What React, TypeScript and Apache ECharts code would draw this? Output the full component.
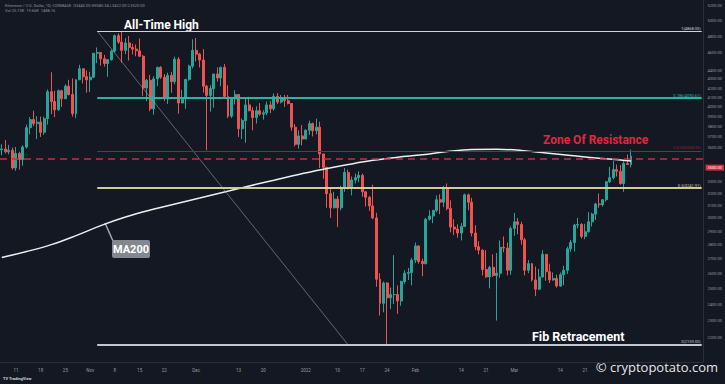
import React, { useEffect, useRef } from "react";
import * as echarts from "echarts";

// date, open, high, low, close (ETH/USD daily)
const ohlc: [string, number, number, number, number][] = [
  ["2021-10-07", 3580, 3630, 3530, 3587],
  ["2021-10-08", 3587, 3670, 3545, 3560],
  ["2021-10-09", 3560, 3625, 3537, 3575],
  ["2021-10-10", 3575, 3600, 3400, 3415],
  ["2021-10-11", 3415, 3605, 3390, 3545],
  ["2021-10-12", 3545, 3560, 3400, 3490],
  ["2021-10-13", 3490, 3620, 3435, 3605],
  ["2021-10-14", 3605, 3820, 3590, 3790],
  ["2021-10-15", 3790, 3895, 3725, 3870],
  ["2021-10-16", 3870, 3960, 3805, 3830],
  ["2021-10-17", 3830, 3905, 3680, 3845],
  ["2021-10-18", 3845, 3900, 3700, 3745],
  ["2021-10-19", 3745, 3900, 3720, 3880],
  ["2021-10-20", 3880, 4185, 3820, 4160],
  ["2021-10-21", 4160, 4375, 3925, 4055],
  ["2021-10-22", 4055, 4170, 3895, 3970],
  ["2021-10-23", 3970, 4185, 3960, 4170],
  ["2021-10-24", 4170, 4180, 4000, 4085],
  ["2021-10-25", 4085, 4240, 4085, 4220],
  ["2021-10-26", 4220, 4290, 4120, 4130],
  ["2021-10-27", 4130, 4305, 3900, 3930],
  ["2021-10-28", 3930, 4295, 3885, 4290],
  ["2021-10-29", 4290, 4460, 4290, 4415],
  ["2021-10-30", 4415, 4415, 4250, 4325],
  ["2021-10-31", 4325, 4395, 4150, 4290],
  ["2021-11-01", 4290, 4380, 4155, 4320],
  ["2021-11-02", 4320, 4600, 4310, 4595],
  ["2021-11-03", 4595, 4665, 4480, 4605],
  ["2021-11-04", 4605, 4610, 4450, 4530],
  ["2021-11-05", 4530, 4575, 4440, 4475],
  ["2021-11-06", 4475, 4525, 4325, 4520],
  ["2021-11-07", 4520, 4640, 4510, 4620],
  ["2021-11-08", 4620, 4825, 4605, 4810],
  ["2021-11-09", 4810, 4840, 4710, 4730],
  ["2021-11-10", 4730, 4868, 4485, 4630],
  ["2021-11-11", 4630, 4780, 4585, 4720],
  ["2021-11-12", 4720, 4805, 4510, 4665],
  ["2021-11-13", 4665, 4710, 4580, 4645],
  ["2021-11-14", 4645, 4700, 4560, 4625],
  ["2021-11-15", 4625, 4775, 4550, 4560],
  ["2021-11-16", 4560, 4575, 4115, 4200],
  ["2021-11-17", 4200, 4300, 4060, 4285],
  ["2021-11-18", 4285, 4345, 3955, 3980],
  ["2021-11-19", 3980, 4330, 3920, 4300],
  ["2021-11-20", 4300, 4440, 4220, 4430],
  ["2021-11-21", 4430, 4445, 4300, 4320],
  ["2021-11-22", 4320, 4355, 4060, 4085],
  ["2021-11-23", 4085, 4370, 4030, 4340],
  ["2021-11-24", 4340, 4380, 4150, 4270],
  ["2021-11-25", 4270, 4555, 4240, 4525],
  ["2021-11-26", 4525, 4550, 3930, 4040],
  ["2021-11-27", 4040, 4180, 4040, 4095],
  ["2021-11-28", 4095, 4300, 3980, 4295],
  ["2021-11-29", 4295, 4460, 4280, 4445],
  ["2021-11-30", 4445, 4765, 4420, 4630],
  ["2021-12-01", 4630, 4780, 4500, 4585],
  ["2021-12-02", 4585, 4600, 4430, 4515],
  ["2021-12-03", 4515, 4645, 4150, 4220],
  ["2021-12-04", 4220, 4235, 3575, 4120],
  ["2021-12-05", 4120, 4230, 3950, 4195],
  ["2021-12-06", 4195, 4355, 3990, 4355],
  ["2021-12-07", 4355, 4430, 4270, 4310],
  ["2021-12-08", 4310, 4440, 4220, 4430],
  ["2021-12-09", 4430, 4470, 4090, 4110],
  ["2021-12-10", 4110, 4230, 3885, 3905],
  ["2021-12-11", 3905, 4100, 3885, 4085],
  ["2021-12-12", 4085, 4175, 4025, 4130],
  ["2021-12-13", 4130, 4135, 3700, 3780],
  ["2021-12-14", 3780, 3880, 3680, 3860],
  ["2021-12-15", 3860, 4100, 3645, 4020],
  ["2021-12-16", 4020, 4105, 3955, 3960],
  ["2021-12-17", 3960, 3995, 3765, 3890],
  ["2021-12-18", 3890, 4005, 3830, 3960],
  ["2021-12-19", 3960, 4040, 3910, 3925],
  ["2021-12-20", 3925, 3965, 3870, 3940],
  ["2021-12-21", 3940, 4055, 3915, 4020],
  ["2021-12-22", 4020, 4060, 3935, 3980],
  ["2021-12-23", 3980, 4140, 3960, 4110],
  ["2021-12-24", 4110, 4145, 4030, 4050],
  ["2021-12-25", 4050, 4125, 4035, 4095],
  ["2021-12-26", 4095, 4125, 4000, 4065],
  ["2021-12-27", 4065, 4125, 4025, 4035],
  ["2021-12-28", 4035, 4040, 3760, 3795],
  ["2021-12-29", 3795, 3825, 3610, 3630],
  ["2021-12-30", 3630, 3765, 3590, 3710],
  ["2021-12-31", 3710, 3815, 3620, 3680],
  ["2022-01-01", 3680, 3775, 3680, 3765],
  ["2022-01-02", 3765, 3860, 3720, 3830],
  ["2022-01-03", 3830, 3840, 3705, 3760],
  ["2022-01-04", 3760, 3880, 3725, 3795],
  ["2022-01-05", 3795, 3850, 3415, 3540],
  ["2022-01-06", 3540, 3545, 3320, 3420],
  ["2022-01-07", 3420, 3425, 3080, 3195],
  ["2022-01-08", 3195, 3245, 3000, 3080],
  ["2022-01-09", 3080, 3210, 3075, 3150],
  ["2022-01-10", 3150, 3175, 2930, 3080],
  ["2022-01-11", 3080, 3260, 3060, 3240],
  ["2022-01-12", 3240, 3415, 3210, 3375],
  ["2022-01-13", 3375, 3400, 3230, 3250],
  ["2022-01-14", 3250, 3340, 3180, 3310],
  ["2022-01-15", 3310, 3365, 3280, 3330],
  ["2022-01-16", 3330, 3385, 3290, 3350],
  ["2022-01-17", 3350, 3365, 3170, 3210],
  ["2022-01-18", 3210, 3215, 3090, 3165],
  ["2022-01-19", 3165, 3175, 3055, 3095],
  ["2022-01-20", 3095, 3270, 2990, 3000],
  ["2022-01-21", 3000, 3040, 2510, 2560],
  ["2022-01-22", 2560, 2600, 2330, 2405],
  ["2022-01-23", 2405, 2545, 2350, 2535],
  ["2022-01-24", 2535, 2540, 2159, 2440],
  ["2022-01-25", 2440, 2505, 2370, 2460],
  ["2022-01-26", 2460, 2725, 2400, 2460],
  ["2022-01-27", 2460, 2520, 2340, 2420],
  ["2022-01-28", 2420, 2550, 2390, 2545],
  ["2022-01-29", 2545, 2620, 2530, 2600],
  ["2022-01-30", 2600, 2635, 2555, 2605],
  ["2022-01-31", 2605, 2705, 2520, 2690],
  ["2022-02-01", 2690, 2815, 2670, 2790],
  ["2022-02-02", 2790, 2795, 2665, 2680],
  ["2022-02-03", 2680, 2700, 2580, 2665],
  ["2022-02-04", 2665, 3000, 2660, 2990],
  ["2022-02-05", 2990, 3060, 2980, 3015],
  ["2022-02-06", 3015, 3060, 2960, 3060],
  ["2022-02-07", 3060, 3180, 3045, 3145],
  ["2022-02-08", 3145, 3190, 3030, 3125],
  ["2022-02-09", 3125, 3260, 3085, 3240],
  ["2022-02-10", 3240, 3280, 3060, 3075],
  ["2022-02-11", 3075, 3140, 2890, 2930],
  ["2022-02-12", 2930, 2990, 2870, 2915],
  ["2022-02-13", 2915, 2950, 2850, 2885],
  ["2022-02-14", 2885, 2960, 2830, 2935],
  ["2022-02-15", 2935, 3195, 2930, 3185],
  ["2022-02-16", 3185, 3195, 3060, 3125],
  ["2022-02-17", 3125, 3160, 2860, 2885],
  ["2022-02-18", 2885, 2945, 2760, 2785],
  ["2022-02-19", 2785, 2825, 2730, 2760],
  ["2022-02-20", 2760, 2765, 2585, 2625],
  ["2022-02-21", 2625, 2760, 2570, 2575],
  ["2022-02-22", 2575, 2650, 2500, 2640],
  ["2022-02-23", 2640, 2730, 2575, 2585],
  ["2022-02-24", 2585, 2740, 2300, 2600],
  ["2022-02-25", 2600, 2830, 2570, 2780],
  ["2022-02-26", 2780, 2860, 2745, 2775],
  ["2022-02-27", 2775, 2815, 2585, 2620],
  ["2022-02-28", 2620, 2935, 2590, 2920],
  ["2022-03-01", 2920, 3040, 2865, 2970],
  ["2022-03-02", 2970, 3000, 2875, 2950],
  ["2022-03-03", 2950, 2970, 2800, 2835],
  ["2022-03-04", 2835, 2850, 2585, 2620],
  ["2022-03-05", 2620, 2690, 2600, 2665],
  ["2022-03-06", 2665, 2670, 2545, 2555],
  ["2022-03-07", 2555, 2645, 2450, 2495],
  ["2022-03-08", 2495, 2630, 2490, 2575],
  ["2022-03-09", 2575, 2760, 2570, 2730],
  ["2022-03-10", 2730, 2730, 2550, 2610],
  ["2022-03-11", 2610, 2665, 2535, 2555],
  ["2022-03-12", 2555, 2605, 2550, 2565],
  ["2022-03-13", 2565, 2590, 2505, 2515],
  ["2022-03-14", 2515, 2605, 2510, 2590],
  ["2022-03-15", 2590, 2650, 2520, 2620],
  ["2022-03-16", 2620, 2785, 2595, 2770],
  ["2022-03-17", 2770, 2835, 2750, 2815],
  ["2022-03-18", 2815, 2955, 2750, 2945],
  ["2022-03-19", 2945, 3000, 2920, 2950],
  ["2022-03-20", 2950, 2960, 2845, 2860],
  ["2022-03-21", 2860, 2955, 2840, 2895],
  ["2022-03-22", 2895, 3045, 2890, 2970],
  ["2022-03-23", 2970, 3040, 2935, 3030],
  ["2022-03-24", 3030, 3120, 2985, 3110],
  ["2022-03-25", 3110, 3195, 3080, 3105],
  ["2022-03-26", 3105, 3150, 3090, 3145],
  ["2022-03-27", 3145, 3300, 3130, 3295],
  ["2022-03-28", 3295, 3425, 3285, 3330],
  ["2022-03-29", 3330, 3480, 3315, 3400],
  ["2022-03-30", 3400, 3445, 3340, 3385],
  ["2022-03-31", 3385, 3440, 3270, 3280],
  ["2022-04-01", 3280, 3475, 3210, 3455],
  ["2022-04-02", 3455, 3535, 3440, 3445],
  ["2022-04-03", 3445, 3580, 3420, 3520],
];

// empty future space on the right of the chart
const futureDates: string[] = [
  "2022-04-04", "2022-04-05", "2022-04-06", "2022-04-07", "2022-04-08",
  "2022-04-09", "2022-04-10", "2022-04-11", "2022-04-12", "2022-04-13",
  "2022-04-14", "2022-04-15", "2022-04-16", "2022-04-17", "2022-04-18",
  "2022-04-19", "2022-04-20", "2022-04-21", "2022-04-22", "2022-04-23",
];

// MA200 values (weekly)
const ma200Points: [string, number][] = [
  ["2021-10-07", 2708], ["2021-10-14", 2750], ["2021-10-21", 2800], ["2021-10-28", 2866],
  ["2021-11-04", 2941], ["2021-11-11", 3007], ["2021-11-18", 3062], ["2021-11-25", 3110],
  ["2021-12-02", 3159], ["2021-12-09", 3209], ["2021-12-16", 3259], ["2021-12-23", 3308],
  ["2021-12-30", 3358], ["2022-01-06", 3403], ["2022-01-13", 3445], ["2022-01-20", 3483],
  ["2022-01-27", 3511], ["2022-02-03", 3533], ["2022-02-10", 3563], ["2022-02-17", 3582],
  ["2022-02-24", 3584], ["2022-03-03", 3573], ["2022-03-10", 3549], ["2022-03-17", 3526],
  ["2022-03-24", 3504], ["2022-03-31", 3486], ["2022-04-03", 3477],
];

const timeTicks: [string, string][] = [
  ["2021-10-11", "11"], ["2021-10-18", "18"], ["2021-10-25", "25"], ["2021-11-01", "Nov"],
  ["2021-11-08", "8"], ["2021-11-15", "15"], ["2021-11-22", "22"], ["2021-12-01", "Dec"],
  ["2021-12-13", "13"], ["2021-12-20", "20"], ["2022-01-01", "2022"], ["2022-01-10", "10"],
  ["2022-01-17", "17"], ["2022-01-24", "24"], ["2022-02-01", "Feb"], ["2022-02-14", "14"],
  ["2022-02-21", "21"], ["2022-03-01", "Mar"], ["2022-03-14", "14"], ["2022-03-21", "21"],
];

const priceTicks: number[] = [
  5200, 5000, 4800, 4600, 4400, 4300, 4200, 4100, 4000, 3900, 3800, 3700, 3600,
  3300, 3200, 3100, 3000, 2900, 2800, 2700, 2600, 2500, 2400, 2300, 2200,
];

const fibHigh = 4868;
const fibLow = 2159;
const fibLevels: number[] = [1, 0.786, 0.618, 0.5, 0];
const fibColors: string[] = ["#d1d4dc", "#2bb3a3", "#8c2536", "#d2ca9c", "#c3c6ce"];
const fibWidths: number[] = [1.2, 1.8, 1.2, 2, 2];
const fibStartDate = "2021-11-03";
const fibEndDate = "2022-01-13";
const resistanceLevel = 3500;
const lastPrice = 3520;
const priceMin = 2066;
const priceMax = 5275;

const BG = "#141823";
const UP = "#26a69a";
const DOWN = "#ef5350";

function buildOption() {
  const L = Math.log;
  const dates = [...ohlc.map((d) => d[0]), ...futureDates];
  const lastDate = dates[dates.length - 1];
  const candleData = ohlc.map(([, o, h, l, c]) => [L(o), L(c), L(l), L(h)]);
  const maMap = new Map(ma200Points);
  const maData = dates.map((d) => (maMap.has(d) ? L(maMap.get(d) as number) : null));
  const tickMap = new Map(timeTicks);
  const fibPrice = (lv: number) => fibLow * Math.pow(fibHigh / fibLow, lv);

  const fibLines: any[] = fibLevels.map((lv, k) => {
    const p = fibPrice(lv);
    return [
      {
        coord: [fibStartDate, L(p)],
        lineStyle: { color: fibColors[k], width: fibWidths[k], type: "solid", opacity: 1 },
        label: {
          show: true,
          position: "insideEndTop",
          formatter: `${lv}(${p.toFixed(2)})`,
          color: fibColors[k],
          fontSize: 4,
          fontFamily: "Roboto",
          distance: 1,
        },
      },
      { coord: [lastDate, L(p)] },
    ];
  });

  const diagonal: any = [
    {
      coord: [fibStartDate, L(fibHigh)],
      lineStyle: { color: "rgba(160,166,178,0.55)", width: 1, type: "solid" },
      label: { show: false },
    },
    { coord: [fibEndDate, L(fibLow)] },
  ];

  const resistance: any = {
    yAxis: L(resistanceLevel),
    lineStyle: { color: "#d12a40", width: 1.6, type: [7, 5] },
    label: {
      show: true,
      position: "end",
      distance: 2,
      formatter: resistanceLevel.toFixed(2),
      backgroundColor: "#d12a40",
      color: "#ffffff",
      fontSize: 4,
      fontFamily: "Roboto",
      padding: [1, 2],
      offset: [0, 9],
    },
  };

  const lastLine: any = {
    yAxis: L(lastPrice),
    lineStyle: { opacity: 0 },
    label: {
      show: true,
      position: "end",
      distance: 2,
      formatter: lastPrice.toFixed(2),
      backgroundColor: UP,
      color: "#ffffff",
      fontSize: 4,
      fontFamily: "Roboto",
      padding: [1.5, 2],
    },
  };

  return {
    animation: false,
    backgroundColor: BG,
    grid: { left: 0, right: 21, top: 0, bottom: 22 },
    xAxis: {
      type: "category",
      data: dates,
      boundaryGap: true,
      axisLine: { show: true, lineStyle: { color: "#2a2e39" } },
      axisTick: { show: false },
      splitLine: { show: false },
      axisLabel: {
        interval: (_i: number, v: string) => tickMap.has(v),
        formatter: (v: string) => tickMap.get(v) || "",
        color: "#9598a1",
        fontSize: 4.5,
        fontFamily: "Roboto",
        margin: 6,
      },
    },
    yAxis: {
      type: "value",
      position: "right",
      min: L(priceMin),
      max: L(priceMax),
      axisLine: { show: true, lineStyle: { color: "#2a2e39" } },
      axisTick: { show: false },
      splitLine: { show: false },
      axisLabel: {
        customValues: priceTicks.map((p) => L(p)),
        formatter: (v: number) => Math.exp(v).toFixed(2),
        color: "#9598a1",
        fontSize: 4,
        fontFamily: "Roboto",
        margin: 4,
      },
    },
    series: [
      {
        type: "candlestick",
        data: candleData,
        barWidth: "70%",
        itemStyle: {
          color: UP,
          color0: DOWN,
          borderColor: UP,
          borderColor0: DOWN,
          borderWidth: 1,
        },
        markLine: {
          silent: true,
          symbol: ["none", "none"],
          animation: false,
          data: [diagonal, ...fibLines, resistance, lastLine],
        },
        z: 2,
      },
      {
        type: "line",
        data: maData,
        connectNulls: true,
        smooth: 0.4,
        showSymbol: false,
        symbol: "none",
        lineStyle: { color: "#eceef2", width: 1.5 },
        z: 3,
      },
    ],
    graphic: [
      {
        type: "text",
        left: 5,
        top: 3,
        style: {
          text: "Ethereum / U.S. Dollar, 1D, COINBASE  O3445.00 H3580.34 L3422.00 C3520.00",
          fill: "#8f929b",
          font: "4px Roboto",
        },
      },
      {
        type: "text",
        left: 5,
        top: 8,
        style: { text: "Vol 25.73K  19.66K  1488.16", fill: "#8f929b", font: "4px Roboto" },
      },
      {
        type: "text",
        left: 124,
        top: 19,
        style: { text: "All-Time High", fill: "#ffffff", font: "bold 12px Roboto" },
      },
      {
        type: "text",
        left: 543,
        top: 134,
        style: { text: "Zone Of Resistance", fill: "#e0283d", font: "bold 12px Roboto" },
      },
      {
        type: "text",
        left: 532,
        top: 330,
        style: { text: "Fib Retracement", fill: "#ffffff", font: "bold 12.5px Roboto" },
      },
      {
        type: "line",
        shape: { x1: 105, y1: 223, x2: 113, y2: 241 },
        style: { stroke: "#a4a7ae", lineWidth: 1.5 },
      },
      {
        type: "group",
        left: 112,
        top: 240,
        children: [
          {
            type: "rect",
            shape: { x: 0, y: 0, width: 38, height: 18, r: 2 },
            style: { fill: "#85878e" },
          },
          {
            type: "text",
            x: 19,
            y: 9.5,
            style: {
              text: "MA200",
              fill: "#ffffff",
              font: "bold 11px Roboto",
              align: "center",
              verticalAlign: "middle",
            },
          },
        ],
      },
      {
        type: "text",
        right: 7,
        top: 360,
        style: { text: "© cryptopotato.com", fill: "rgba(255,255,255,0.92)", font: "13px 'Open Sans'" },
      },
      {
        type: "text",
        left: 3,
        top: 376,
        style: { text: "TV TradingView", fill: "#d1d4dc", font: "bold 4px Roboto" },
      },
    ],
  };
}

export default function App() {
  const ref = useRef<HTMLDivElement>(null);
  useEffect(() => {
    document.body.style.margin = "0";
    document.body.style.background = BG;
    const chart = echarts.init(ref.current as HTMLDivElement, undefined, { renderer: "svg" });
    chart.setOption(buildOption() as any);
    return () => chart.dispose();
  }, []);
  return (
    <div
      ref={ref}
      style={{ width: 725, height: 384, position: "fixed", left: 0, top: 0 }}
    />
  );
}
